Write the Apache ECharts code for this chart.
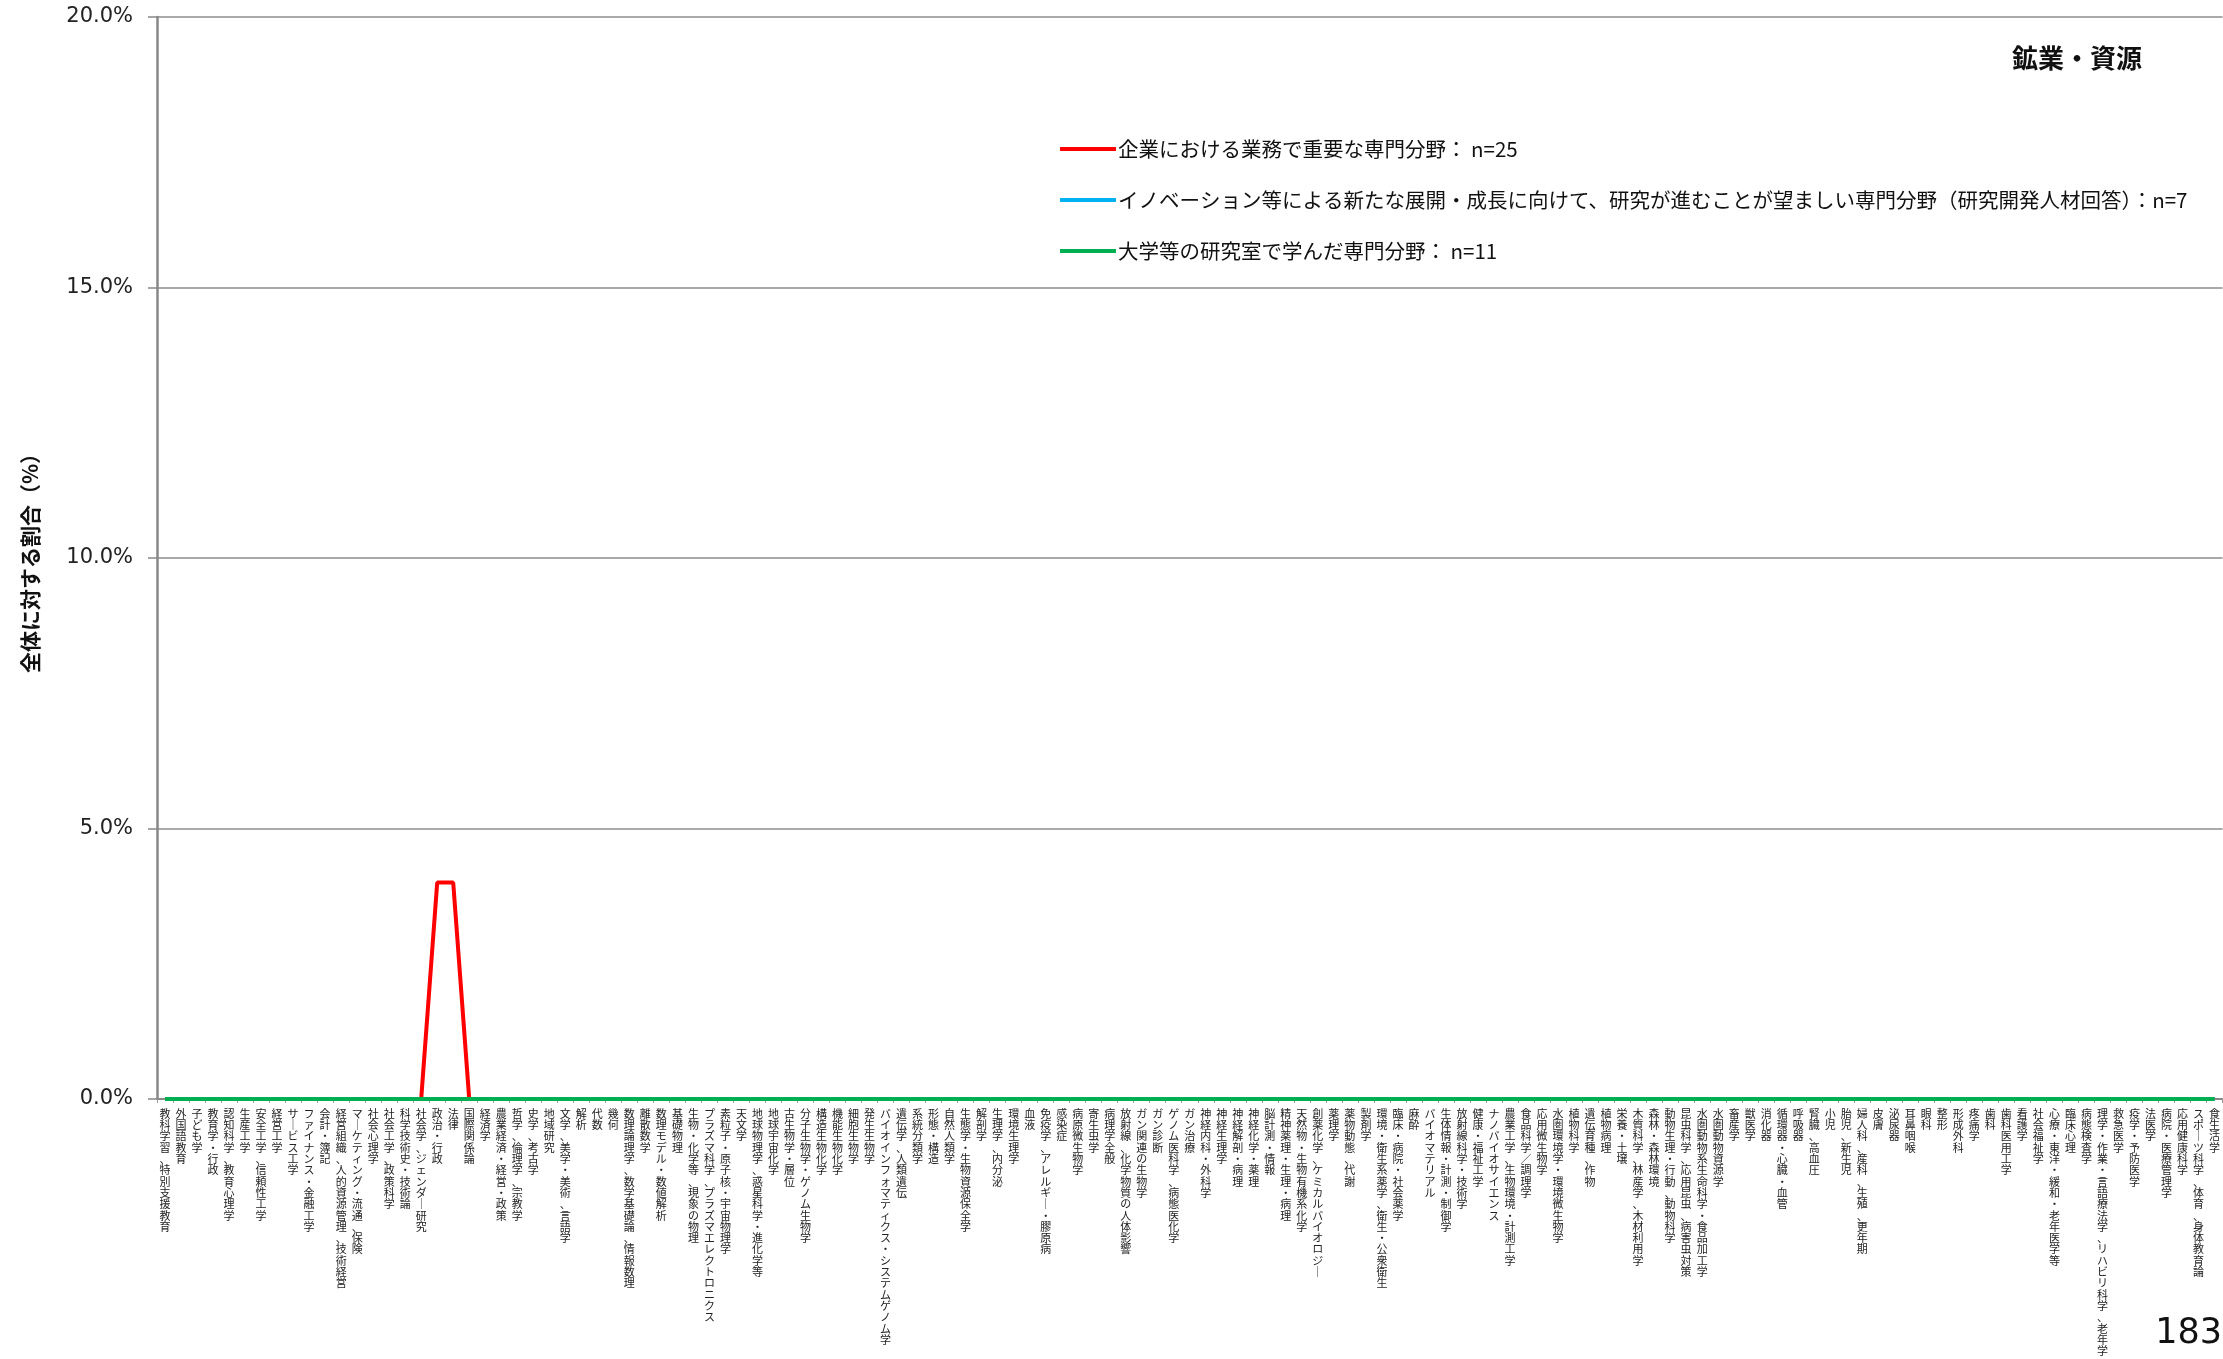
<!DOCTYPE html>
<html>
<head>
<meta charset="utf-8">
<script src="https://cdn.jsdelivr.net/npm/echarts@6/dist/echarts.min.js"></script>
<style>
html,body{margin:0;padding:0;background:#fff;}
#chart{width:2223px;height:1359px;}
</style>
</head>
<body>
<div id="chart"></div>
<script>
const categories = [
"教科学習、特別支援教育","外国語教育","子ども学","教育学・行政","認知科学、教育心理学","生産工学","安全工学、信頼性工学","経営工学","サービス工学","ファイナンス・金融工学",
"会計・簿記","経営組織、人的資源管理、技術経営","マーケティング・流通、保険","社会心理学","社会工学、政策科学","科学技術史・技術論","社会学、ジェンダー研究","政治・行政","法律","国際関係論",
"経済学","農業経済・経営・政策","哲学、倫理学、宗教学","史学、考古学","地域研究","文学、美学・美術、言語学","解析","代数","幾何","数理論理学、数学基礎論、情報数理",
"離散数学","数理モデル・数値解析","基礎物理","生物・化学等、現象の物理","プラズマ科学、プラズマエレクトロニクス","素粒子・原子核・宇宙物理学","天文学","地球物理学、惑星科学・進化学等","地球宇宙化学","古生物学・層位",
"分子生物学・ゲノム生物学","構造生物化学","機能生物化学","細胞生物学","発生生物学","バイオインフォマティクス・システムゲノム学","遺伝学、人類遺伝","系統分類学","形態・構造","自然人類学",
"生態学・生物資源保全学","解剖学","生理学、内分泌","環境生理学","血液","免疫学、アレルギー・膠原病","感染症","病原微生物学","寄生虫学","病理学全般",
"放射線、化学物質の人体影響","ガン関連の生物学","ガン診断","ゲノム医科学、病態医化学","ガン治療","神経内科・外科学","神経生理学","神経解剖・病理","神経化学・薬理","脳計測・情報",
"精神薬理・生理・病理","天然物・生物有機系化学","創薬化学、ケミカルバイオロジー","薬理学","薬物動態、代謝","製剤学","環境・衛生系薬学、衛生・公衆衛生","臨床・病院・社会薬学","麻酔","バイオマテリアル",
"生体情報・計測・制御学","放射線科学・技術学","健康・福祉工学","ナノバイオサイエンス","農業工学、生物環境・計測工学","食品科学／調理学","応用微生物学","水圏環境学・環境微生物学","植物科学","遺伝育種、作物",
"植物病理","栄養・土壌","木質科学、林産学、木材利用学","森林・森林環境","動物生理・行動、動物科学","昆虫科学、応用昆虫、病害虫対策","水圏動物系生命科学・食品加工学","水圏動物資源学","畜産学","獣医学",
"消化器","循環器・心臓・血管","呼吸器","腎臓、高血圧","小児","胎児、新生児","婦人科、産科、生殖、更年期","皮膚","泌尿器","耳鼻咽喉",
"眼科","整形","形成外科","疼痛学","歯科","歯科医用工学","看護学","社会福祉学","心療・東洋・緩和・老年医学等","臨床心理",
"病態検査学","理学・作業・言語療法学、リハビリ科学、老年学","救急医学","疫学・予防医学","法医学","病院・医療管理学","応用健康科学","スポーツ科学、体育、身体教育論","食生活学"
];

const seriesNames = [
"企業における業務で重要な専門分野： n=25",
"イノベーション等による新たな展開・成長に向けて、研究が進むことが望ましい専門分野（研究開発人材回答）：n=7",
"大学等の研究室で学んだ専門分野： n=11"
];

// values in percent, one per category (129)
const companyValues = [
0,0,0,0,0,0,0,0,0,0,
0,0,0,0,0,0,0,4.0,4.0,0,
0,0,0,0,0,0,0,0,0,0,
0,0,0,0,0,0,0,0,0,0,
0,0,0,0,0,0,0,0,0,0,
0,0,0,0,0,0,0,0,0,0,
0,0,0,0,0,0,0,0,0,0,
0,0,0,0,0,0,0,0,0,0,
0,0,0,0,0,0,0,0,0,0,
0,0,0,0,0,0,0,0,0,0,
0,0,0,0,0,0,0,0,0,0,
0,0,0,0,0,0,0,0,0,0,
0,0,0,0,0,0,0,0,0
];
const innovationValues = [
0,0,0,0,0,0,0,0,0,0,
0,0,0,0,0,0,0,0,0,0,
0,0,0,0,0,0,0,0,0,0,
0,0,0,0,0,0,0,0,0,0,
0,0,0,0,0,0,0,0,0,0,
0,0,0,0,0,0,0,0,0,0,
0,0,0,0,0,0,0,0,0,0,
0,0,0,0,0,0,0,0,0,0,
0,0,0,0,0,0,0,0,0,0,
0,0,0,0,0,0,0,0,0,0,
0,0,0,0,0,0,0,0,0,0,
0,0,0,0,0,0,0,0,0,0,
0,0,0,0,0,0,0,0,0
];
const universityValues = [
0,0,0,0,0,0,0,0,0,0,
0,0,0,0,0,0,0,0,0,0,
0,0,0,0,0,0,0,0,0,0,
0,0,0,0,0,0,0,0,0,0,
0,0,0,0,0,0,0,0,0,0,
0,0,0,0,0,0,0,0,0,0,
0,0,0,0,0,0,0,0,0,0,
0,0,0,0,0,0,0,0,0,0,
0,0,0,0,0,0,0,0,0,0,
0,0,0,0,0,0,0,0,0,0,
0,0,0,0,0,0,0,0,0,0,
0,0,0,0,0,0,0,0,0,0,
0,0,0,0,0,0,0,0,0
];

const yTicks = {min: 0, max: 20, interval: 5};
const titleText = "鉱業・資源";
const yAxisName = "全体に対する割合（%）";
const pageNumber = "183";
const colors = ["#FF0000", "#00B0F0", "#00B050"];

const chart = echarts.init(document.getElementById('chart'), null, {renderer: 'canvas'});

function verticalText(s) {
  return s.replace(/ー/g, '｜').split('').join('\n');
}

const option = {
  backgroundColor: '#ffffff',
  animation: false,
  grid: {left: 157, right: 0, top: 17, bottom: 260, containLabel: false},
  title: {
    text: titleText,
    right: 76, top: 40,
    textStyle: {fontFamily: 'Noto Sans CJK JP', fontWeight: 'bold', fontSize: 26, color: '#111'}
  },
  legend: {
    orient: 'vertical',
    left: 1055, top: 132,
    itemWidth: 56, itemHeight: 4, itemGap: 27,
    icon: 'rect',
    data: seriesNames,
    textStyle: {fontFamily: 'Noto Sans CJK JP', fontSize: 20.5, color: '#111', lineHeight: 24, padding: [0,0,0,-3]}
  },
  xAxis: {
    type: 'category',
    data: categories,
    boundaryGap: true,
    axisLine: {show: true, lineStyle: {color: '#888', width: 2}},
    axisTick: {show: true, length: 4, lineStyle: {color: '#999'}},
    axisLabel: {
      interval: 0,
      margin: 9,
      hideOverlap: false,
      fontFamily: 'Noto Sans CJK JP',
      fontSize: 11,
      lineHeight: 11.3,
      color: '#222',
      verticalAlign: 'top',
      formatter: verticalText
    }
  },
  yAxis: {
    type: 'value',
    min: yTicks.min, max: yTicks.max, interval: yTicks.interval,
    name: yAxisName,
    nameLocation: 'middle',
    nameGap: 116,
    nameRotate: 90,
    nameTextStyle: {fontFamily: 'Noto Sans CJK JP', fontWeight: 'bold', fontSize: 21, color: '#111'},
    axisLine: {show: true, lineStyle: {color: '#888', width: 2.5}},
    axisTick: {show: true, inside: false, length: 9, lineStyle: {color: '#888', width: 1.5}},
    splitLine: {show: true, lineStyle: {color: '#8c8c8c', width: 1.5}},
    axisLabel: {
      margin: 24,
      fontFamily: 'DejaVu Sans',
      fontSize: 21,
      color: '#222',
      formatter: v => v.toFixed(1) + '%'
    }
  },
  series: [
    {name: seriesNames[0], type: 'line', data: companyValues, symbol: 'none', lineStyle: {color: colors[0], width: 4}, itemStyle: {color: colors[0]}},
    {name: seriesNames[1], type: 'line', data: innovationValues, symbol: 'none', lineStyle: {color: colors[1], width: 4}, itemStyle: {color: colors[1]}},
    {name: seriesNames[2], type: 'line', data: universityValues, symbol: 'none', lineStyle: {color: colors[2], width: 4}, itemStyle: {color: colors[2]}}
  ],
  graphic: [
    {type: 'text', right: 1, bottom: 8, style: {text: pageNumber, font: '35px "DejaVu Sans"', fill: '#111'}}
  ]
};
chart.setOption(option);
</script>
</body>
</html>
